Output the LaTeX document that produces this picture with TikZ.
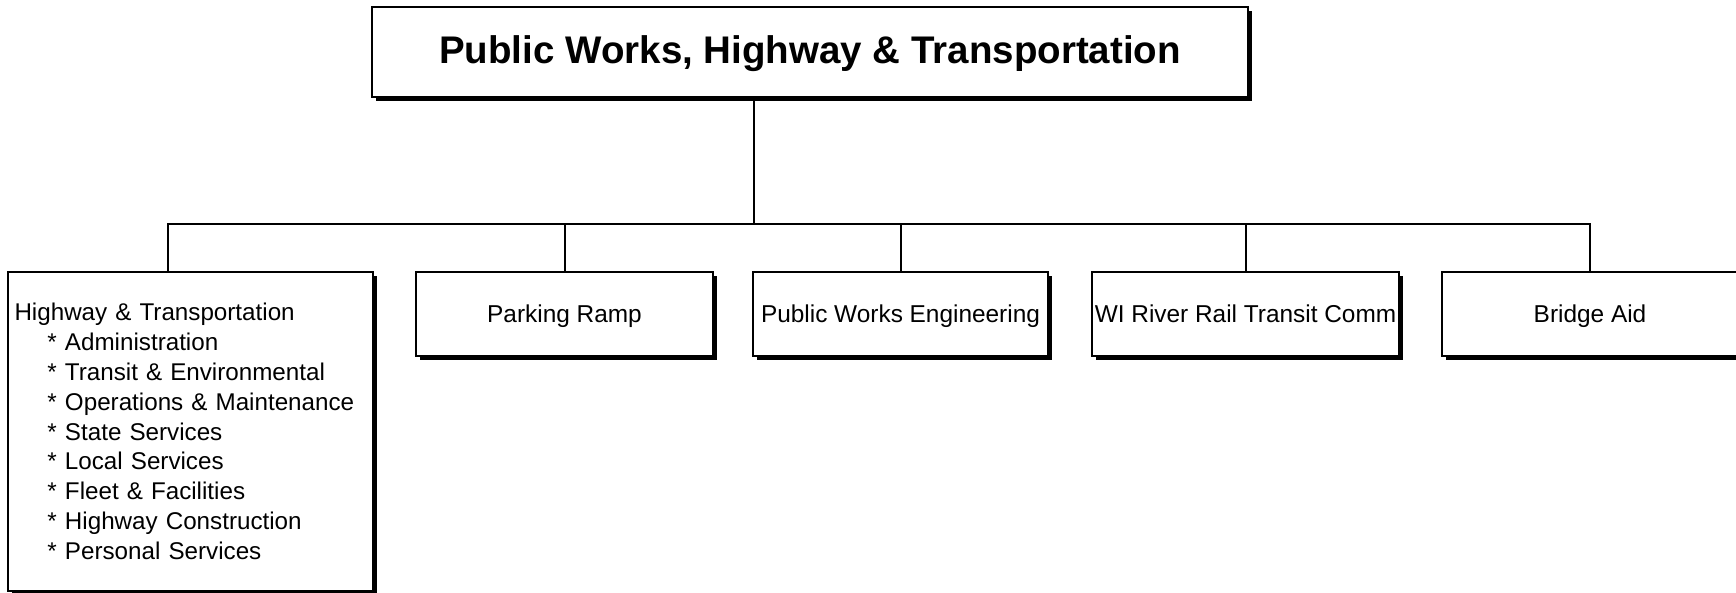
\documentclass[tikz,border=0pt]{standalone}
\usepackage{fontspec}
\setmainfont{Liberation Sans}
\usetikzlibrary{shadows}
\begin{document}
\begin{tikzpicture}[x=0.5pt,y=-0.5pt,
  box/.style={draw=black, line width=0.6pt, fill=white, inner sep=1pt,
    drop shadow={shadow xshift=2pt, shadow yshift=-2pt, fill=black, opacity=1}},
  child/.style={box, minimum height=42pt, text height=10.9pt, text depth=2.6pt,
    font=\fontsize{12.2}{14.9}\selectfont},
  conn/.style={line width=1pt}]
\useasboundingbox (0,0) rectangle (1736,593);
\node[box, minimum width=438pt, minimum height=45pt, text height=16pt, text depth=4pt,
  font=\fontsize{19.25}{23}\selectfont\bfseries] (top) at (810,52)
  {Public Works, Highway \& Transportation};
\node[box, minimum width=182.5pt, minimum height=159.5pt, text width=176pt,
  inner xsep=2.3pt, align=left, font=\fontsize{12.1}{14.9}\selectfont] (hwy) at (190.5,431.5)
  {Highway \& Transportation\\
   \hspace*{16.5pt}* Administration\\
   \hspace*{16.5pt}* Transit \& Environmental\\
   \hspace*{16.5pt}* Operations \& Maintenance\\
   \hspace*{16.5pt}* State Services\\
   \hspace*{16.5pt}* Local Services\\
   \hspace*{16.5pt}* Fleet \& Facilities\\
   \hspace*{16.5pt}* Highway Construction\\
   \hspace*{16.5pt}* Personal Services};
\node[child, minimum width=148.5pt] (park) at (564.5,314) {Parking Ramp};
\node[child, minimum width=147.5pt] (pwe) at (900.5,314) {Public Works Engineering};
\node[child, minimum width=153.5pt, inner sep=0pt] (wi) at (1245.5,314) {WI River Rail Transit Comm};
\node[child, minimum width=148pt] (bridge) at (1590,314) {Bridge Aid};
\coordinate (hub) at (754,224);
\coordinate (b1) at (168,224);
\draw[conn] (top.south -| hub) -- (hub);
\draw[conn] (b1 |- hwy.north) -- (b1) -| (bridge.north);
\draw[conn] (park.north) -- (park.north |- hub);
\draw[conn] (pwe.north) -- (pwe.north |- hub);
\draw[conn] (wi.north) -- (wi.north |- hub);
\end{tikzpicture}
\end{document}
